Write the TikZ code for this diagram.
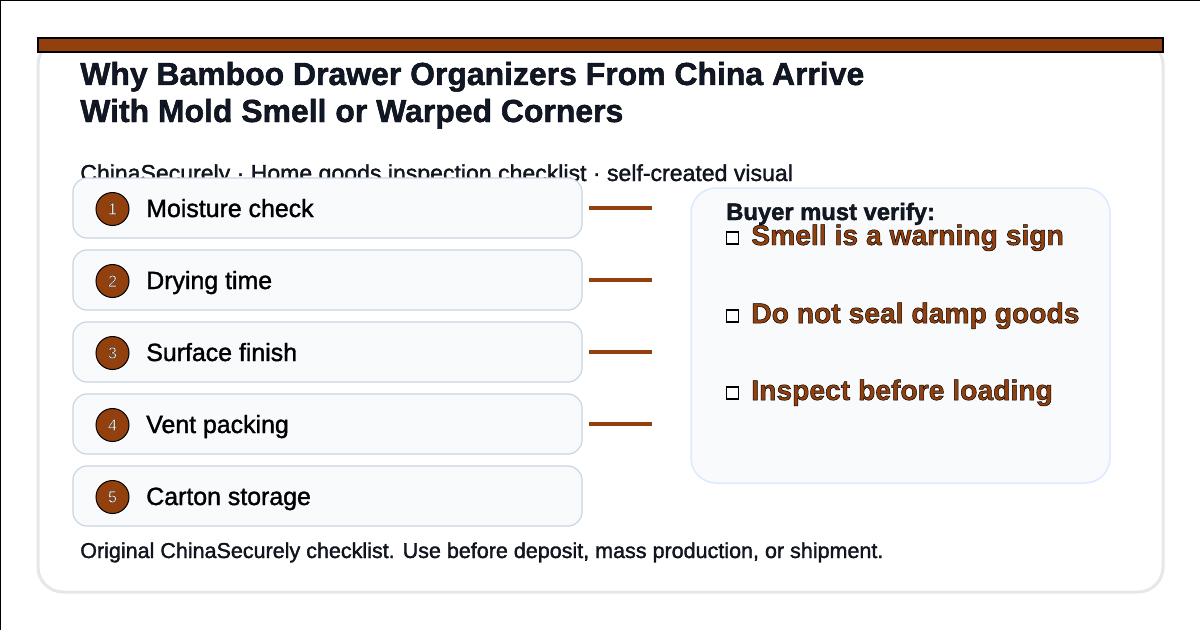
\documentclass[tikz,border=0pt]{standalone}
\usepackage{fontspec}
\setmainfont{Liberation Sans}
\usetikzlibrary{positioning}

\definecolor{barkbrown}{HTML}{92400E}
\definecolor{inkdark}{HTML}{111827}
\definecolor{cardline}{HTML}{E5E7EB}
\definecolor{panelfill}{HTML}{F8FAFC}
\definecolor{stepline}{HTML}{CBD5E1}
\definecolor{verifyline}{HTML}{DBEAFE}

\newdimen\unitpx
\unitpx=0.025cm

% glyphs filled in the text colour and stroked thinly in black
\newcommand{\inked}[2][0.5]{\special{pdf:literal direct 2 Tr #1 w 0 0 0 RG}#2\special{pdf:literal direct 0 Tr 0.4 w}}

\begin{document}
\begin{tikzpicture}[
    x=0.025cm, y=-0.025cm,
    card/.style={draw=cardline, line width=3\unitpx, rounded corners=25\unitpx, fill=white},
    topbar/.style={draw=black, line width=1.5\unitpx, fill=barkbrown},
    titletext/.style={anchor=base west, inner sep=0pt, text=inkdark, font=\bfseries\fontsize{22.7}{27}\selectfont},
    subtext/.style={anchor=base west, inner sep=0pt, text=inkdark, font=\fontsize{16.4}{19}\selectfont},
    stepbox/.style={draw=stepline, line width=1.2\unitpx, fill=panelfill, rounded corners=14\unitpx,
      minimum width=509\unitpx, minimum height=60\unitpx},
    stepdot/.style={circle, draw=black, line width=1\unitpx, fill=barkbrown, minimum size=33\unitpx,
      inner sep=0pt, text=white, font=\fontsize{11.5}{12}\selectfont},
    steplabel/.style={anchor=base west, inner sep=0pt, text=black, font=\fontsize{17.7}{20}\selectfont},
    linkbar/.style={draw=barkbrown, line width=4\unitpx},
    verifybox/.style={draw=verifyline, line width=1.5\unitpx, fill=panelfill, rounded corners=25\unitpx,
      minimum width=419\unitpx, minimum height=295\unitpx},
    verifyhead/.style={anchor=base west, inner sep=0pt, text=inkdark, font=\bfseries\fontsize{16.9}{19}\selectfont},
    checkbox/.style={draw=black, line width=1.5\unitpx, fill=white, minimum size=12\unitpx, inner sep=0pt},
    checkitem/.style={anchor=base west, inner sep=0pt, text=barkbrown, font=\bfseries\fontsize{20.1}{23}\selectfont},
    footer/.style={anchor=base west, inner sep=0pt, text=inkdark, font=\fontsize{15.3}{18}\selectfont},
  ]

  \useasboundingbox (0,0) rectangle (1200,630);
  \fill[white] (0,0) rectangle (1200,630);
  \draw[black, line width=2\unitpx] (0,630) -- (0,0) -- (1200,0);

  % card and header bar
  \draw[card] (38,40) rectangle (1163,592);
  \draw[topbar] (38,38) rectangle (1163,52);

  \node[titletext] (title) at (80,85) {\inked[0.3]{Why Bamboo Drawer Organizers From China Arrive}};
  \node[titletext] (title2) at (80,122) {\inked[0.3]{With Mold Smell or Warped Corners}};
  \node[subtext] (sub) at (80,181) {\inked[0.2]{ChinaSecurely · Home goods inspection checklist · self-created visual}};

  % steps on the left
  \node[stepbox] (s1) at (327.5,208) {};
  \node[stepbox] (s2) at (327.5,280) {};
  \node[stepbox] (s3) at (327.5,352) {};
  \node[stepbox] (s4) at (327.5,424) {};
  \node[stepbox] (s5) at (327.5,496) {};

  \node[stepdot] (d1) at (112.5,209) {\inked[0.12]{1}};
  \node[stepdot] (d2) at (112.5,281) {\inked[0.12]{2}};
  \node[stepdot] (d3) at (112.5,353) {\inked[0.12]{3}};
  \node[stepdot] (d4) at (112.5,425) {\inked[0.12]{4}};
  \node[stepdot] (d5) at (112.5,497) {\inked[0.12]{5}};

  \node[steplabel] (l1) at (146,217) {\inked[0.25]{Moisture check}};
  \node[steplabel] (l2) at (146,289) {\inked[0.25]{Drying time}};
  \node[steplabel] (l3) at (146,361) {\inked[0.25]{Surface finish}};
  \node[steplabel] (l4) at (146,433) {\inked[0.25]{Vent packing}};
  \node[steplabel] (l5) at (146,505) {\inked[0.25]{Carton storage}};

  \draw[linkbar] ([xshift=6\unitpx]s1.east) -- ++(63,0);
  \draw[linkbar] ([xshift=6\unitpx]s2.east) -- ++(63,0);
  \draw[linkbar] ([xshift=6\unitpx]s3.east) -- ++(63,0);
  \draw[linkbar] ([xshift=6\unitpx]s4.east) -- ++(63,0);

  % buyer panel
  \node[verifybox] (verify) at (900.5,335.5) {};
  \node[verifyhead] (vhead) at (726,220) {\inked[0.25]{Buyer must verify:}};

  \node[checkbox] (c1) at (732.5,238) {};
  \node[checkbox] (c2) at (732.5,316) {};
  \node[checkbox] (c3) at (732.5,393) {};
  \node[checkitem] (i1) at (751,245) {\inked[0.35]{Smell is a warning sign}};
  \node[checkitem] (i2) at (751,323) {\inked[0.35]{Do not seal damp goods}};
  \node[checkitem] (i3) at (751,400) {\inked[0.35]{Inspect before loading}};

  \node[footer] (foot) at (80,558) {\inked[0.2]{Original ChinaSecurely checklist. Use before deposit, mass production, or shipment.}};
\end{tikzpicture}
\end{document}
